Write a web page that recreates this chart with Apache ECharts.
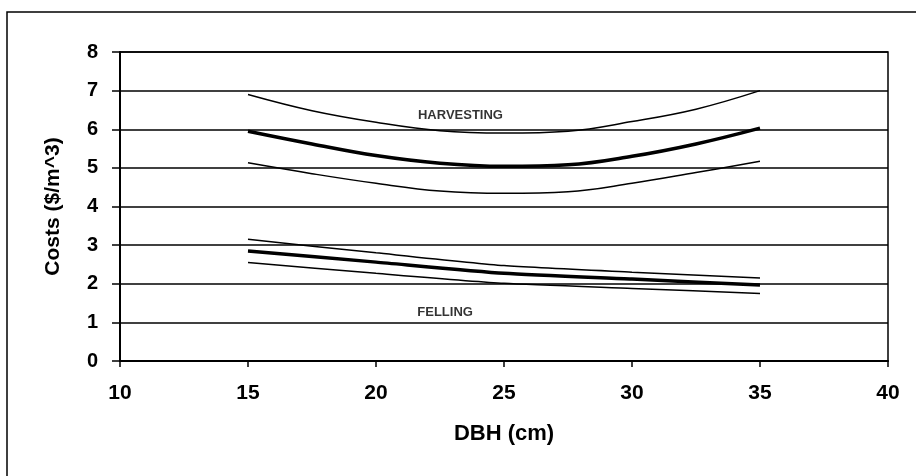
<!DOCTYPE html>
<html>
<head>
<meta charset="utf-8">
<script src="https://cdn.jsdelivr.net/npm/echarts@6/dist/echarts.min.js"></script>
<style>
html,body{margin:0;padding:0;background:#fff;}
#chart{width:916px;height:476px;}
</style>
</head>
<body>
<div id="chart"></div>
<script>
// Data
const harvestX = [15, 17.5, 20, 22.5, 25, 27.5, 30, 32.5, 35];
const harvestUpper = [6.90, 6.48, 6.18, 5.96, 5.90, 5.95, 6.20, 6.52, 7.00];
const harvestMid   = [5.95, 5.62, 5.32, 5.12, 5.04, 5.08, 5.30, 5.62, 6.03];
const harvestLower = [5.13, 4.85, 4.60, 4.40, 4.34, 4.38, 4.60, 4.88, 5.17];

const fellingX = [15, 20, 25, 30, 35];
const fellingUpper = [3.15, 2.80, 2.47, 2.30, 2.15];
const fellingMid   = [2.85, 2.56, 2.27, 2.12, 1.97];
const fellingLower = [2.55, 2.27, 2.01, 1.88, 1.75];

const textLabels = ['HARVESTING', 'FELLING'];
const textLabelX = [23.3, 22.7];
const textLabelY = [6.37, 1.27];

const xTicks = [10, 15, 20, 25, 30, 35, 40];
const yTicks = [0, 1, 2, 3, 4, 5, 6, 7, 8];

const FONT = '"Liberation Sans", Arial, sans-serif';

function pairs(xs, ys) { return xs.map((x, i) => [x, ys[i]]); }

function lineSeries(xs, ys, w, smooth) {
  return {
    type: 'line',
    data: pairs(xs, ys),
    smooth: smooth,
    showSymbol: false,
    symbol: 'none',
    lineStyle: { color: '#000', width: w },
    silent: true,
    z: 3
  };
}

const chart = echarts.init(document.getElementById('chart'), null, { renderer: 'canvas' });
chart.setOption({
  animation: false,
  backgroundColor: '#fff',
  graphic: [{
    type: 'rect',
    shape: { x: 7, y: 12, width: 930, height: 490 },
    style: { fill: 'none', stroke: '#000', lineWidth: 1.5 },
    silent: true
  }],
  grid: {
    left: 120, right: 28, top: 52, bottom: 115,
    show: true, borderColor: '#000', borderWidth: 1.5, backgroundColor: 'transparent'
  },
  xAxis: {
    type: 'value',
    min: xTicks[0], max: xTicks[xTicks.length - 1], interval: 5,
    name: 'DBH (cm)',
    nameLocation: 'middle',
    nameGap: 62,
    nameTextStyle: { fontFamily: FONT, fontWeight: 'bold', fontSize: 22, color: '#000' },
    axisLine: { show: true, onZero: false, lineStyle: { color: '#000', width: 2 } },
    axisTick: { show: true, length: 6, lineStyle: { color: '#000', width: 1.5 } },
    axisLabel: { fontFamily: FONT, fontWeight: 'bold', fontSize: 21, color: '#000', margin: 22 },
    splitLine: { show: false }
  },
  yAxis: {
    type: 'value',
    min: yTicks[0], max: yTicks[yTicks.length - 1], interval: 1,
    name: 'Costs ($/m^3)',
    nameLocation: 'middle',
    nameGap: 56,
    nameTextStyle: { fontFamily: FONT, fontWeight: 'bold', fontSize: 21, color: '#000' },
    axisLine: { show: true, lineStyle: { color: '#000', width: 2 } },
    axisTick: { show: true, length: 8, lineStyle: { color: '#000', width: 1.5 } },
    axisLabel: { fontFamily: FONT, fontWeight: 'bold', fontSize: 20, color: '#000', margin: 22 },
    splitLine: { show: true, lineStyle: { color: '#000', width: 1.5 } }
  },
  series: [
    lineSeries(harvestX, harvestUpper, 1.5, 0.4),
    lineSeries(harvestX, harvestMid, 3.5, 0.4),
    lineSeries(harvestX, harvestLower, 1.5, 0.4),
    lineSeries(fellingX, fellingUpper, 1.5, 0.2),
    lineSeries(fellingX, fellingMid, 3.5, 0.2),
    lineSeries(fellingX, fellingLower, 1.5, 0.2),
    {
      type: 'scatter',
      symbolSize: 0,
      silent: true,
      data: textLabels.map((t, i) => ({ value: [textLabelX[i], textLabelY[i]], name: t })),
      label: {
        show: true,
        position: 'inside',
        formatter: p => p.name,
        fontFamily: FONT, fontWeight: 'bold', fontSize: 13, color: '#000'
      },
      z: 4
    }
  ]
});
</script>
</body>
</html>
